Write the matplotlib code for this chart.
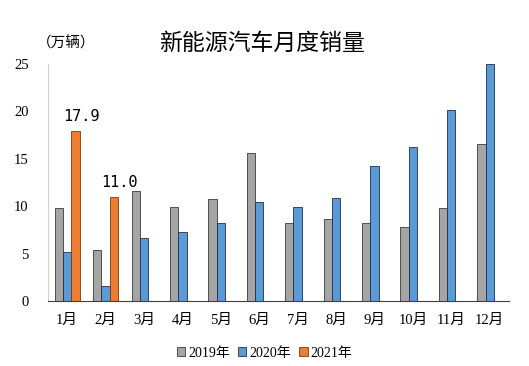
import numpy as np
import matplotlib
matplotlib.use('Agg')
import matplotlib.pyplot as plt

plt.rcParams['font.family'] = ['Liberation Serif', 'Noto Sans CJK SC', 'DejaVu Sans']

# %% DATA
months = ['1月', '2月', '3月', '4月', '5月', '6月', '7月', '8月', '9月', '10月', '11月', '12月']
y2019 = [9.8, 5.4, 11.6, 9.9, 10.8, 15.6, 8.2, 8.7, 8.2, 7.8, 9.8, 16.6]
y2020 = [5.2, 1.6, 6.6, 7.3, 8.2, 10.4, 9.9, 10.9, 14.2, 16.2, 20.1, 25.0]
y2021 = [17.9, 11.0]
series_names = ['2019年', '2020年', '2021年']

# %% PLOTTING
col = ['#A5A5A5', '#5B9BD5', '#ED7D31']
width = 0.217

fig = plt.figure(figsize=(5.29, 3.66), dpi=100, facecolor='white')
ax = fig.add_axes([0.0907, 0.1776, 0.8713, 0.6474])

x = np.arange(len(months))
ax.bar(x - width, y2019, width, color=col[0], edgecolor='#3a3a3a', lw=0.6, label=series_names[0])
ax.bar(x, y2020, width, color=col[1], edgecolor='#1f2f4a', lw=0.6, label=series_names[1])
x21 = np.arange(len(y2021))
bars = ax.bar(x21 + width, y2021, width, color=col[2], edgecolor='#7a3a10', lw=0.6, label=series_names[2])

for b, v in zip(bars, y2021):
    ax.annotate('%.1f' % v, (b.get_x() + b.get_width() / 2 + 0.15, v), xytext=(0, 5),
                textcoords='offset points', ha='center', va='bottom', fontsize=11,
                family=['DejaVu Sans Mono'])

ax.set_xlim(-0.5, 11.5)
ax.set_ylim(0, 25)
ax.set_yticks(range(0, 26, 5))
ax.set_xticks(x)
ax.set_xticklabels(months)
ax.tick_params(axis='both', length=0)
ax.tick_params(axis='y', pad=14, labelsize=10.5)
ax.tick_params(axis='x', pad=9, labelsize=10.5)

ax.spines['right'].set_visible(False)
ax.spines['top'].set_visible(False)
ax.spines['left'].set_color('#d0d0d0')
ax.spines['bottom'].set_color('#404040')

fig.text(0.495, 0.882, '新能源汽车月度销量', ha='center', va='center', fontsize=16.5,
         family=['Noto Sans CJK SC'])
fig.text(0.125, 0.882, '（万辆）', ha='center', va='center', fontsize=10.5,
         family=['Noto Sans CJK SC'])

leg = fig.legend(loc='center', bbox_to_anchor=(0.5, 0.035), ncol=3, frameon=False,
                 fontsize=10, handlelength=0.6, handleheight=0.6, handletextpad=0.2,
                 columnspacing=0.6)

fig.savefig('out.png', dpi=100)
